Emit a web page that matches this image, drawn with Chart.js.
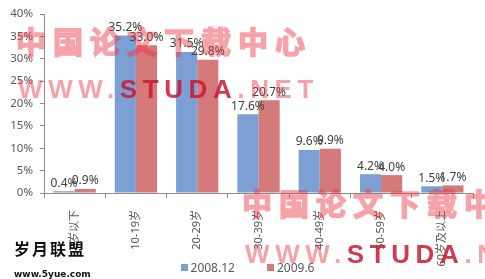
<!DOCTYPE html>
<html>
<head>
<meta charset="utf-8">
<script src="https://cdn.jsdelivr.net/npm/chart.js@4"></script>
<style>
  body { margin: 0; background: #fff; }
  #wrap { position: relative; width: 485px; height: 279px; overflow: hidden; }
  #legend { position: absolute; left: 0; top: 259px; width: 485px; display: flex; justify-content: center; padding-left: 10px; box-sizing: border-box;
            font: 12px "Noto Sans", "Noto Sans CJK SC", sans-serif; color: #595959; }
  #legend span.item { display: flex; align-items: center; margin: 0 16px; }
  #legend span.box { width: 7px; height: 7px; margin-right: 3px; }
  .wm { position: absolute; pointer-events: none; white-space: nowrap; line-height: 1; }
  .wm .cn { font: bold 30px "Noto Sans CJK SC", sans-serif; letter-spacing: 7px; color: rgb(235, 50, 65);
            -webkit-text-stroke: 1.6px rgb(235, 50, 65); opacity: 0.45; }
  .wm .url { font: bold 26px "Liberation Sans", sans-serif; letter-spacing: 5.6px; color: rgb(235, 50, 65); }
  .wm .url span { opacity: 0.45; }
  .wm .url b { color: rgb(200, 25, 50); opacity: 0.85; }
  #logo { position: absolute; left: 14px; top: 236px; color: #111; line-height: 1; }
  #logo .a { font: bold 16px "Noto Sans CJK SC", sans-serif; letter-spacing: 2px; }
  #logo .b { font: bold 9px "DejaVu Sans", sans-serif; margin-top: 9px; }
</style>
</head>
<body>
<div id="wrap">
  <canvas id="myChart" width="485" height="279"></canvas>
  <div id="legend"></div>
  <div class="wm" style="left:16px;top:18px;"><div class="cn">中国论文下载中心</div><div class="url" style="margin-top:12px;margin-left:2px;"><span>WWW.</span><b>STUDA</b><span>.NET</span></div></div>
  <div class="wm" style="left:242px;top:180px;"><div class="cn">中国论文下载中心</div><div class="url" style="margin-top:15px;margin-left:3px;"><span>WWW.</span><b>STUDA</b><span>.NET</span></div></div>
  <div id="logo"><div class="a">岁月联盟</div><div class="b">www.5yue.com</div></div>
</div>
<script>
// Dati
const categorie = ['10岁以下', '10-19岁', '20-29岁', '30-39岁', '40-49岁', '50-59岁', '60岁及以上'];
const serie = ['2008.12', '2009.6'];
const valori200812 = [0.4, 35.2, 31.5, 17.6, 9.6, 4.2, 1.5];
const valori20096 = [0.9, 33.0, 29.8, 20.7, 9.9, 4.0, 1.7];
const colori = ['rgb(125, 160, 212)', 'rgb(212, 122, 122)'];

const testoGrigio = '#595959';
const lineaGrigia = '#8c8c8c';

// Plugin per le etichette sopra le barre
const etichetteBarre = {
    id: 'etichetteBarre',
    afterDatasetsDraw(chart) {
        const ctx = chart.ctx;
        ctx.save();
        ctx.font = '12px "Noto Sans", "Noto Sans CJK SC", sans-serif';
        ctx.fillStyle = '#404040';
        ctx.textAlign = 'center';
        ctx.textBaseline = 'bottom';
        chart.data.datasets.forEach((ds, i) => {
            const meta = chart.getDatasetMeta(i);
            meta.data.forEach((bar, j) => {
                ctx.fillText(ds.data[j].toFixed(1) + '%', bar.x, bar.y - 2);
            });
        });
        ctx.restore();
    }
};

const ctx = document.getElementById('myChart').getContext('2d');
new Chart(ctx, {
    type: 'bar',
    data: {
        labels: categorie,
        datasets: [
            { label: serie[0], data: valori200812, backgroundColor: colori[0] },
            { label: serie[1], data: valori20096, backgroundColor: colori[1] }
        ]
    },
    options: {
        responsive: false,
        animation: false,
        categoryPercentage: 0.69,
        barPercentage: 1,
        layout: { padding: { top: 14, right: 12, left: 0, bottom: 0 } },
        scales: {
            x: {
                grid: { display: true, drawOnChartArea: false, offset: true, tickLength: 5, color: lineaGrigia },
                border: { color: lineaGrigia },
                ticks: {
                    minRotation: 90, maxRotation: 90, padding: 12,
                    color: testoGrigio,
                    font: { size: 11, family: '"Noto Sans", "Noto Sans CJK SC", sans-serif' }
                },
                afterFit: (scale) => { scale.height = 86; }
            },
            y: {
                min: 0, max: 40,
                grid: { display: true, drawOnChartArea: false, tickLength: 4, color: lineaGrigia },
                border: { color: lineaGrigia },
                ticks: {
                    stepSize: 5, padding: 7,
                    color: testoGrigio,
                    font: { size: 11.5, family: '"Noto Sans", "Noto Sans CJK SC", sans-serif' },
                    callback: (v) => v + '%'
                },
                afterFit: (scale) => { scale.width = 44; }
            }
        },
        plugins: {
            legend: { display: false },
            tooltip: { enabled: false }
        }
    },
    plugins: [etichetteBarre]
});

// Legenda in HTML
const legenda = document.getElementById('legend');
serie.forEach((nome, i) => {
    legenda.innerHTML += `<span class="item"><span class="box" style="background:${colori[i]}"></span>${nome}</span>`;
});
</script>
</body>
</html>
